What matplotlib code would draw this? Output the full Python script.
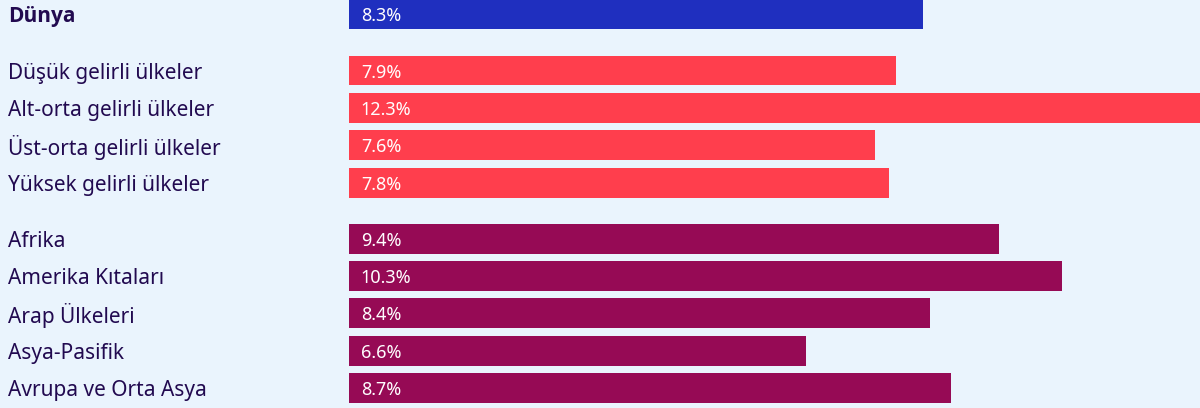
import matplotlib.pyplot as plt

# categories and values (percent)
labels = ["Dünya",
          "Düşük gelirli ülkeler", "Alt-orta gelirli ülkeler",
          "Üst-orta gelirli ülkeler", "Yüksek gelirli ülkeler",
          "Afrika", "Amerika Kıtaları", "Arap Ülkeleri",
          "Asya-Pasifik", "Avrupa ve Orta Asya"]
values = [8.3, 7.9, 12.3, 7.6, 7.8, 9.4, 10.3, 8.4, 6.6, 8.7]
groups = ["world", "income", "income", "income", "income",
          "region", "region", "region", "region", "region"]

colors = {"world": "#1f2fbf", "income": "#ff3e4d", "region": "#960a55"}
bg = "#eaf4fd"
text_col = "#220a50"

# row positions: extra half-row gap between groups
ypos = []
y = 0.0
prev = None
for g in groups:
    if prev is not None:
        y += 1.0 if g == prev else 1.5
    ypos.append(y)
    prev = g

plt.rcParams['font.family'] = ['Noto Sans', 'DejaVu Sans']

fig = plt.figure(figsize=(12, 4.08), dpi=100)
fig.patch.set_facecolor(bg)
ax = fig.add_axes([349 / 1200, 0, 1 - 349 / 1200, 1])
ax.set_facecolor(bg)

ax.barh(ypos, values, height=0.8, color=[colors[g] for g in groups])
ax.set_xlim(0, max(values))
ax.set_ylim(10.535, -0.388)
ax.axis('off')

for yy, v, lab, g in zip(ypos, values, labels, groups):
    ax.text(0.17, yy, f"{v}%", color="white", fontsize=13,
            va='center_baseline', ha='left')
    if g == "world":
        fam, wt = ['Open Sans', 'DejaVu Sans'], 'bold'
    else:
        fam, wt = ['Noto Sans', 'DejaVu Sans'], 'normal'
    ax.annotate(lab, xy=(8 / 1200, yy), xycoords=('figure fraction', 'data'),
                fontsize=15, color=text_col, va='center_baseline', ha='left',
                family=fam, fontweight=wt)

fig.savefig("out.png", dpi=100, facecolor=bg)
